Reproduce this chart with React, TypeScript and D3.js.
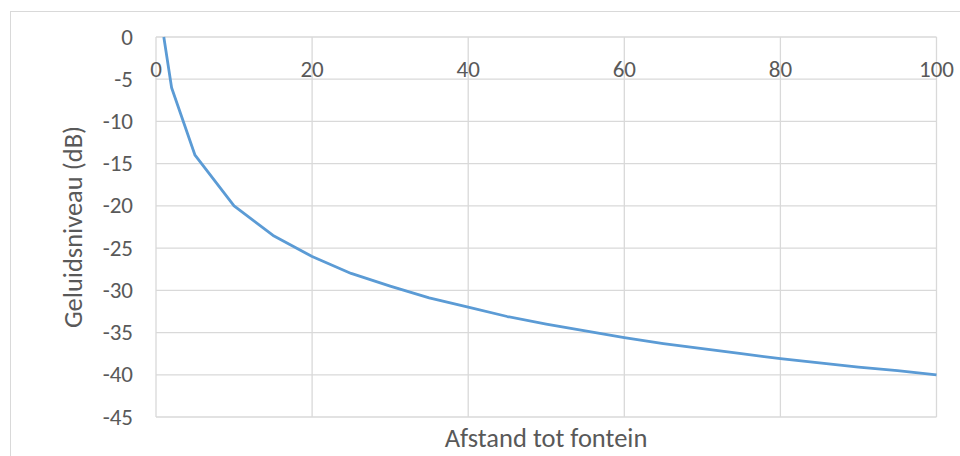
import React from "react";
import * as d3 from "d3";

// Afstand tot fontein (m)
const distances = [1, 2, 5, 10, 15, 20, 25, 30, 35, 40, 45, 50, 55, 60, 65, 70, 75, 80, 85, 90, 95, 100];
// Geluidsniveau (dB)
const levels = [0, -6, -14, -20, -23.5, -26, -28, -29.5, -30.9, -32, -33.1, -34, -34.8, -35.6, -36.3, -36.9, -37.5, -38.1, -38.6, -39.1, -39.5, -40];
const xTicks = [0, 20, 40, 60, 80, 100];
const yTicks = [0, -5, -10, -15, -20, -25, -30, -35, -40, -45];

const W = 960;
const H = 456;
const FONT = "Carlito, 'Open Sans', 'Liberation Sans', sans-serif";
const TEXT = "#595959";

export default function App() {
  const x = d3.scaleLinear().domain([0, 100]).range([156, 936.5]);
  const y = d3.scaleLinear().domain([0, -45]).range([37, 417]);
  const data = distances.map((d, i) => ({ d, v: levels[i] }));
  const line = d3
    .line<{ d: number; v: number }>()
    .x((p) => x(p.d))
    .y((p) => y(p.v));

  return (
    <svg
      width={W}
      height={H}
      style={{ position: "absolute", left: 0, top: 0, background: "#fff" }}
      fontFamily={FONT}
    >
      <rect x={10.5} y={11.5} width={960} height={460} fill="#fff" stroke="#d9d9d9" />
      {yTicks.map((t) => (
        <line key={"gy" + t} x1={x(0)} x2={x(100)} y1={y(t)} y2={y(t)} stroke="#d9d9d9" strokeWidth={1.3} />
      ))}
      {xTicks.map((t) => (
        <line key={"gx" + t} x1={x(t)} x2={x(t)} y1={y(0)} y2={y(-45)} stroke="#d9d9d9" strokeWidth={1.3} />
      ))}
      {yTicks.map((t) => (
        <text key={"ly" + t} x={133} y={y(t)} dy="0.33em" textAnchor="end" fontSize={23} fill={TEXT}>
          {t}
        </text>
      ))}
      {xTicks.map((t) => (
        <text key={"lx" + t} x={x(t)} y={77} textAnchor="middle" fontSize={23} fill={TEXT}>
          {t}
        </text>
      ))}
      <path d={line(data) || ""} fill="none" stroke="#5b9bd5" strokeWidth={2.8} strokeLinejoin="round" />
      <text
        transform={`translate(${82},${227}) rotate(-90)`}
        textAnchor="middle"
        fontSize={26.5}
        fill={TEXT}
      >
        Geluidsniveau (dB)
      </text>
      <text x={546} y={447} textAnchor="middle" fontSize={26.5} fill={TEXT}>
        Afstand tot fontein
      </text>
    </svg>
  );
}
